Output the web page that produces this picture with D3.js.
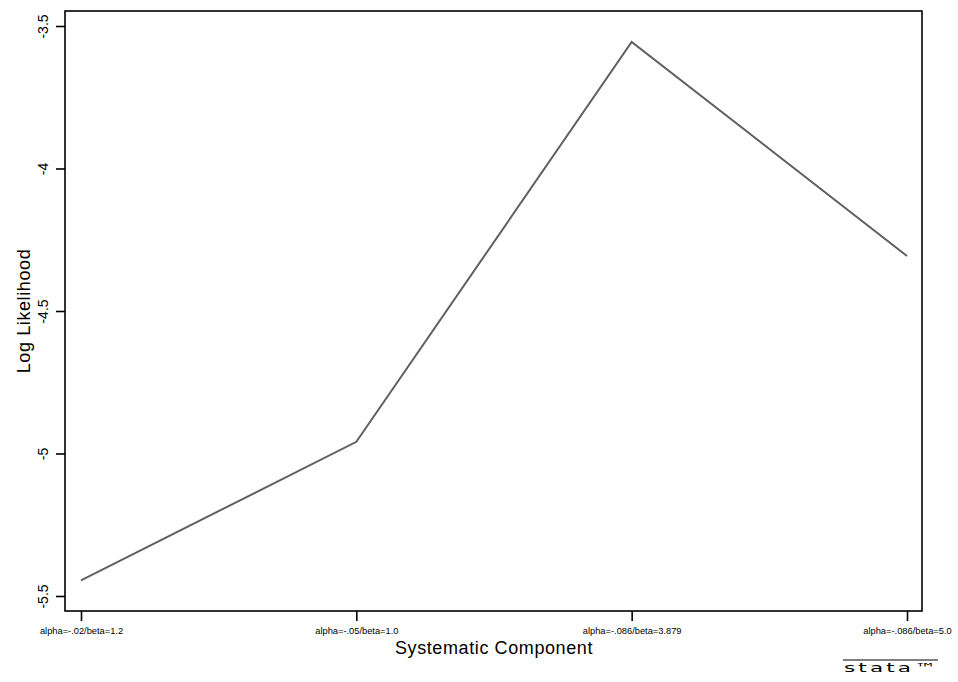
<!DOCTYPE html>
<html>
<head>
<meta charset="utf-8">
<script src="https://cdn.jsdelivr.net/npm/d3@7"></script>
<style>
  body { margin: 0; background: #fff; }
  text { font-family: "Liberation Sans", Arial, sans-serif; fill: #000; }
</style>
</head>
<body>
<div id="chart"></div>
<script>
// data
const categories = ["alpha=-.02/beta=1.2", "alpha=-.05/beta=1.0", "alpha=-.086/beta=3.879", "alpha=-.086/beta=5.0"];
const logLik = [-5.445, -4.959, -3.556, -4.307];
const yTicks = [-3.5, -4, -4.5, -5, -5.5];

const width = 958, height = 682;
const frame = { left: 65, top: 11, right: 922, bottom: 611 };

const svg = d3.select("#chart").append("svg")
  .attr("width", width)
  .attr("height", height);

// scales
const x = d3.scalePoint()
  .domain(categories)
  .range([81, 907]);

const y = d3.scaleLinear()
  .domain([-5.5, -3.5])
  .range([596, 26]);

// frame
svg.append("rect")
  .attr("x", frame.left)
  .attr("y", frame.top)
  .attr("width", frame.right - frame.left)
  .attr("height", frame.bottom - frame.top)
  .attr("fill", "none")
  .attr("stroke", "#000")
  .attr("stroke-width", 1.6);

// y axis
const yAxis = svg.append("g")
  .attr("transform", `translate(${frame.left},0)`)
  .call(d3.axisLeft(y).tickValues(yTicks).tickSize(9).tickFormat(d => String(d)));
yAxis.select(".domain").remove();
yAxis.selectAll(".tick line").attr("stroke", "#000").attr("stroke-width", 1.6);
yAxis.selectAll(".tick text")
  .attr("transform", "rotate(-90)")
  .attr("x", 0)
  .attr("y", -17)
  .attr("dy", 0)
  .style("text-anchor", "middle")
  .style("font-size", "14px")
  .style("font-family", "'Liberation Sans', Arial, sans-serif");

// x axis
const xAxis = svg.append("g")
  .attr("transform", `translate(0,${frame.bottom})`)
  .call(d3.axisBottom(x).tickSize(10).tickPadding(6));
xAxis.select(".domain").remove();
xAxis.selectAll(".tick line").attr("stroke", "#000").attr("stroke-width", 1.6);
xAxis.selectAll(".tick text")
  .style("font-size", "9.3px")
  .style("font-family", "'Liberation Sans', Arial, sans-serif");

// axis titles
svg.append("text")
  .attr("x", 494)
  .attr("y", 654)
  .style("text-anchor", "middle")
  .style("font-size", "18px")
  .style("letter-spacing", "0.6px")
  .text("Systematic Component");

svg.append("text")
  .attr("transform", "translate(30,311) rotate(-90)")
  .style("text-anchor", "middle")
  .style("font-size", "18px")
  .style("letter-spacing", "0.6px")
  .text("Log Likelihood");

// line
const line = d3.line()
  .x((d, i) => x(categories[i]))
  .y(d => y(d));

svg.append("path")
  .datum(logLik)
  .attr("d", line)
  .attr("fill", "none")
  .attr("stroke", "#606060")
  .attr("stroke-width", 2);

// stata logo
svg.append("line")
  .attr("x1", 843).attr("x2", 938)
  .attr("y1", 660).attr("y2", 660)
  .attr("stroke", "#000")
  .attr("stroke-width", 1);
svg.append("text")
  .attr("transform", "translate(844,672) scale(1.8,1)")
  .attr("textLength", 51)
  .attr("lengthAdjust", "spacing")
  .style("font-size", "12px")
  .style("font-family", "'DejaVu Sans', sans-serif")
  .text("stata™");
</script>
</body>
</html>
